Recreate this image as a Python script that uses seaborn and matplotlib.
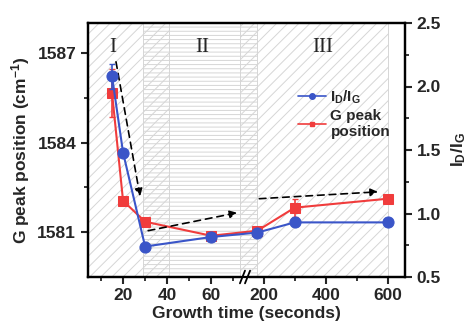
import numpy as np
import pandas as pd
import matplotlib
matplotlib.use("Agg")
import matplotlib.pyplot as plt
from matplotlib.lines import Line2D
import matplotlib.transforms as mtransforms
import seaborn as sns

# ---------------- data ----------------
time_s = [15, 20, 30, 60, 180, 300, 600]
g_peak = [1585.66, 1582.05, 1581.35, 1580.88, 1581.05, 1581.82, 1582.12]
g_peak_err = [0.8, 0.08, 0.08, 0.05, 0.05, 0.3, 0.08]
id_ig = [2.08, 1.48, 0.74, 0.815, 0.85, 0.93, 0.93]
id_ig_err = [0.10, 0.03, 0.02, 0.02, 0.02, 0.03, 0.02]
x_major = [20, 40, 60, 200, 400, 600]
x_minor = [10, 30, 50, 70, 300, 500]
y_left_ticks = [1581, 1584, 1587]
y_right_ticks = [0.5, 1.0, 1.5, 2.0, 2.5]
region_labels = ["I", "II", "III"]
region_label_x = [15.5, 56, 390]
region_spans = [(3, 41), (29, 180), (73, 600)]
region_hatch = ["///", "----", "///"]

df = pd.DataFrame({"t": time_s, "g": g_peak, "r": id_ig})

# ---------------- style ----------------
sns.set_style("ticks")
plt.rcParams["font.family"] = ["Liberation Sans", "DejaVu Sans"]
plt.rcParams["font.weight"] = "bold"
plt.rcParams["mathtext.default"] = "regular"
plt.rcParams["hatch.linewidth"] = 0.7

BLUE = "#3a55c8"
RED = "#f03c3c"

# broken-axis scale
B1, B2, K = 76.0, 145.0, 0.31 / 2.2
src = np.array([-1e4, B1, B2, 1e5])
dst = np.array([-1e4, B1, B1 + 1e-3, B1 + 1e-3 + (1e5 - B2) * K])


def fwd(x):
    return np.interp(x, src, dst)


def inv(y):
    return np.interp(y, dst, src)


fig = plt.figure(figsize=(4.68, 3.32), dpi=100)
ax = fig.add_axes([88 / 468, 1 - 277 / 332, (405 - 88) / 468, (277 - 23) / 332])
ax.set_xscale("function", functions=(fwd, inv))
ax.set_xlim(4.1, 655)
ax.set_ylim(1579.5, 1588)

# hatched regions
for (a, b), h in zip(region_spans, region_hatch):
    ax.axvspan(a, b, facecolor="none", edgecolor="#d6d6d6", hatch=h, lw=0.7, zorder=0)

# red series (left axis)
ax.errorbar(time_s, g_peak, yerr=g_peak_err, fmt="none", ecolor=RED, elinewidth=1.2,
            capsize=2.5, zorder=3)
sns.lineplot(data=df, x="t", y="g", ax=ax, color=RED, marker="s", markersize=7,
             markeredgecolor=RED, linewidth=1.5, zorder=4, legend=False)

ax2 = ax.twinx()
ax2.set_xscale("function", functions=(fwd, inv))
ax2.set_ylim(0.5, 2.5)
ax2.errorbar(time_s, id_ig, yerr=id_ig_err, fmt="none", ecolor=BLUE, elinewidth=1.2,
             capsize=2.5, zorder=3)
sns.lineplot(data=df, x="t", y="r", ax=ax2, color=BLUE, marker="o", markersize=8,
             markeredgecolor=BLUE, linewidth=1.5, zorder=4, legend=False)
ax2.set_xlim(4.1, 655)

# arrows
arrow_kw = dict(arrowstyle="-|>", mutation_scale=11, lw=1.2, ls=(0, (4, 3)),
                color="k", shrinkA=0, shrinkB=0)
arrows = [((16.8, 1586.7), (27.7, 1582.2)),
          ((31.4, 1581.05), (71.8, 1581.65)),
          ((186, 1582.12), (568, 1582.35))]
for s, e in arrows:
    ax.annotate("", xy=e, xytext=s, xycoords="data", textcoords="data",
                arrowprops=arrow_kw, zorder=5)

# region labels
trans = mtransforms.blended_transform_factory(ax.transData, ax.transAxes)
for lab, xx in zip(region_labels, region_label_x):
    ax.text(xx, 0.905, lab, transform=trans, ha="center", va="center",
            fontsize=15, family="Liberation Serif", fontweight="normal")

# ticks
ax.set_xticks(x_major)
ax.set_xticklabels([str(v) for v in x_major])
ax.set_xticks(x_minor, minor=True)
ax.set_yticks(y_left_ticks)
ax.set_yticks([1582.5, 1585.5], minor=True)
ax2.set_yticks(y_right_ticks)
ax2.set_yticklabels([f"{v:.1f}" for v in y_right_ticks])
ax2.set_yticks([0.75, 1.25, 1.75, 2.25], minor=True)

for a in (ax, ax2):
    a.tick_params(which="major", direction="out", length=5, width=1.5, labelsize=12.5)
    a.tick_params(which="minor", direction="out", length=3, width=1.3)
    for sp in a.spines.values():
        sp.set_linewidth(1.6)
        sp.set_color("black")
        sp.set_visible(True)
ax2.tick_params(axis="x", which="both", bottom=False, top=False, labelbottom=False)
ax.tick_params(axis="x", pad=3)

ax.set_xlabel("Growth time (seconds)", fontsize=12.5, fontweight="bold", labelpad=2)
ax.set_ylabel("G peak position (cm$^{-1}$)", fontsize=12.5, fontweight="bold", labelpad=4)
ax2.set_ylabel("I$_D$/I$_G$", fontsize=12.5, fontweight="bold", labelpad=6)

# axis break marks
bx = (245 - 88) / 317
ax.add_patch(plt.Rectangle((bx - 0.012, -0.02), 0.024, 0.04, transform=ax.transAxes,
                           facecolor="white", edgecolor="none", clip_on=False, zorder=10))
for off in (-0.008, 0.008):
    ax.plot([bx + off - 0.008, bx + off + 0.008], [-0.025, 0.025], transform=ax.transAxes,
            color="k", lw=1.3, clip_on=False, zorder=11)

# legend
handles = [Line2D([], [], color=BLUE, marker="o", markersize=4, lw=1.2),
           Line2D([], [], color=RED, marker="s", markersize=3.5, lw=1.2)]
leg = ax2.legend(handles, ["I$_D$/I$_G$", "G peak\nposition"], loc="upper left",
                 bbox_to_anchor=(0.63, 0.785), frameon=False, fontsize=11,
                 handlelength=1.8, handletextpad=0.3, labelspacing=0.2, borderpad=0.2)
for t in leg.get_texts():
    t.set_fontweight("bold")

fig.savefig("out.png", dpi=100)
